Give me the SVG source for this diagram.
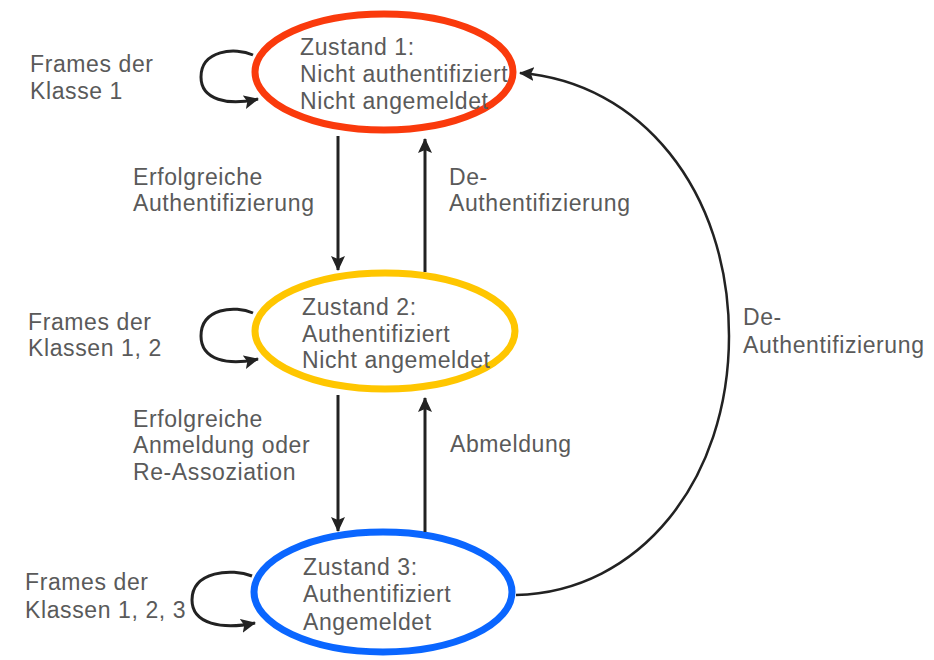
<svg xmlns="http://www.w3.org/2000/svg" width="934" height="660" viewBox="0 0 934 660">
  <defs>
    <style>
      text { font-family: "Liberation Sans", Arial, sans-serif; font-size: 23px; fill: #5a5a5a; letter-spacing: 0.6px; }
      .state { fill: none; stroke-width: 7; }
      .edge { fill: none; stroke: #222222; stroke-width: 3; }
      .arc { fill: none; stroke: #222222; stroke-width: 2.5; }
    </style>
    <marker id="head" viewBox="0 0 15 14" refX="14" refY="7" markerWidth="15" markerHeight="14" markerUnits="userSpaceOnUse" orient="auto">
      <path d="M0,0 L15,7 L0,14 L3,7 Z" fill="#222222"/>
    </marker>
  </defs>

  <rect width="934" height="660" fill="#ffffff"/>

  <!-- state 1 -->
  <g id="state1">
    <ellipse class="state" cx="384" cy="72" rx="129" ry="58" stroke="#fa3a0c"/>
    <text x="300" y="55">Zustand 1:</text>
    <text x="300" y="82">Nicht authentifiziert</text>
    <text x="300" y="109">Nicht angemeldet</text>
  </g>

  <!-- state 2 -->
  <g id="state2">
    <ellipse class="state" cx="385" cy="331" rx="130" ry="58" stroke="#ffc600"/>
    <text x="302" y="315">Zustand 2:</text>
    <text x="302" y="342">Authentifiziert</text>
    <text x="302" y="368">Nicht angemeldet</text>
  </g>

  <!-- state 3 -->
  <g id="state3">
    <ellipse class="state" cx="383" cy="592" rx="129" ry="60" stroke="#0a66ff"/>
    <text x="303" y="575">Zustand 3:</text>
    <text x="303" y="602">Authentifiziert</text>
    <text x="303" y="630">Angemeldet</text>
  </g>

  <!-- transitions -->
  <g id="connectors">
    <!-- self loops -->
    <path class="edge" d="M253,55 C235,47 201,50 201,77 C201,100 228,106 258,99" marker-end="url(#head)"/>
    <path class="edge" d="M253,313 C235,305 201,308 201,336 C201,360 228,366 258,359" marker-end="url(#head)"/>
    <path class="edge" d="M252,576 C232,568 192,571 192,600 C192,624 222,630 255,623" marker-end="url(#head)"/>

    <!-- 1 <-> 2 -->
    <line class="edge" x1="338" y1="136" x2="338" y2="270" marker-end="url(#head)"/>
    <line class="edge" x1="425" y1="272" x2="425" y2="139" marker-end="url(#head)"/>

    <!-- 2 <-> 3 -->
    <line class="edge" x1="338" y1="395" x2="338" y2="531" marker-end="url(#head)"/>
    <line class="edge" x1="425" y1="532" x2="425" y2="398" marker-end="url(#head)"/>

    <!-- 3 -> 1 -->
    <path class="arc" d="M516,595 C640,592 729,480 729,336 C729,190 640,82 520,73" marker-end="url(#head)"/>
  </g>

  <!-- transition labels -->
  <g id="labels">
    <text x="30" y="72">Frames der</text>
    <text x="30" y="99">Klasse 1</text>

    <text x="28" y="330">Frames der</text>
    <text x="28" y="356">Klassen 1, 2</text>

    <text x="25" y="590">Frames der</text>
    <text x="25" y="618">Klassen 1, 2, 3</text>

    <text x="133" y="185">Erfolgreiche</text>
    <text x="133" y="211">Authentifizierung</text>

    <text x="449" y="185">De-</text>
    <text x="449" y="211">Authentifizierung</text>

    <text x="133" y="427">Erfolgreiche</text>
    <text x="133" y="453">Anmeldung oder</text>
    <text x="133" y="480">Re-Assoziation</text>

    <text x="450" y="452">Abmeldung</text>

    <text x="743" y="325">De-</text>
    <text x="743" y="353">Authentifizierung</text>
  </g>
</svg>
